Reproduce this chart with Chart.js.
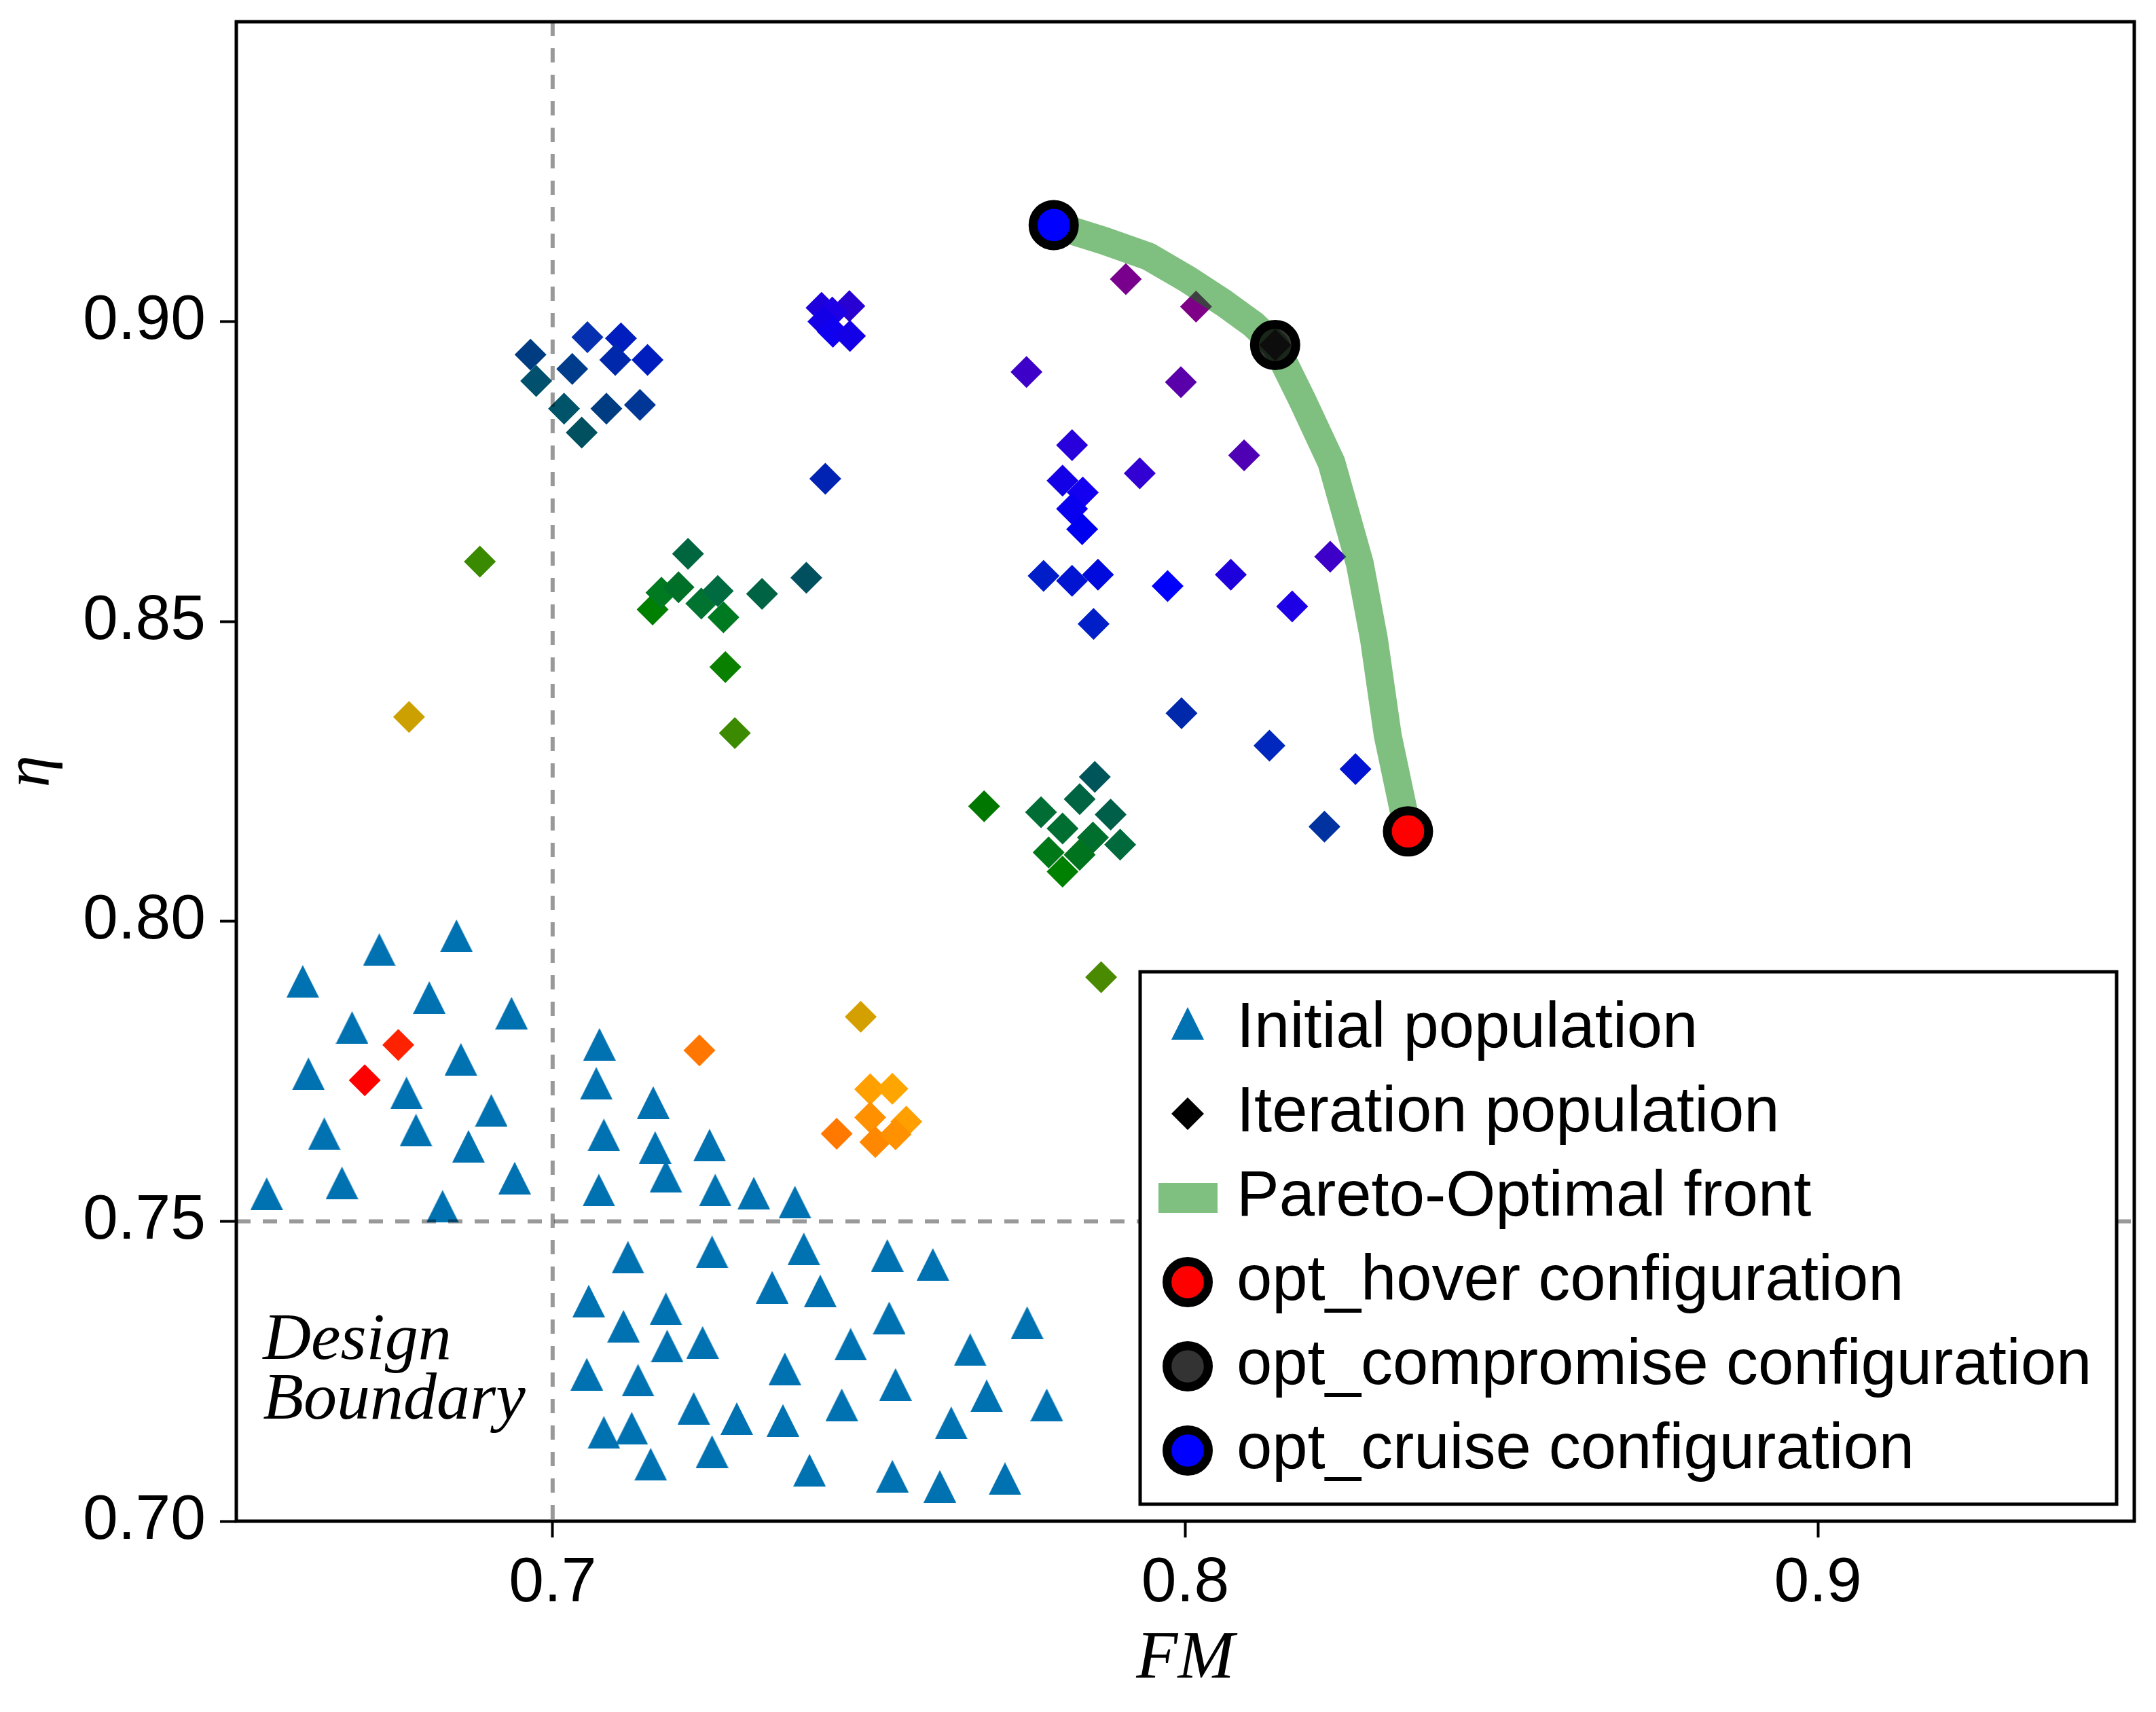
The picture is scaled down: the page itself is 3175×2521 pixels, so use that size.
<!DOCTYPE html>
<html>
<head>
<meta charset="utf-8">
<script src="https://cdn.jsdelivr.net/npm/chart.js@4.4.1/dist/chart.umd.min.js"></script>
<style>
  html, body { margin: 0; padding: 0; background: #fff; }
  #wrap { width: 3175px; height: 2521px; }
</style>
</head>
<body>
<div id="wrap"><canvas id="myChart" width="3175" height="2521"></canvas></div>
<script>
// Population initiale (triangles)
const initFM = [
  0.6848, 0.6726, 0.6605, 0.6805, 0.6935, 0.6683, 0.6855, 0.6614, 0.6769, 0.6903,
  0.6784, 0.6639, 0.6867, 0.6940, 0.6667, 0.6548, 0.6826,
  0.7074, 0.7069, 0.7159, 0.7081, 0.7162, 0.7248, 0.7179, 0.7073, 0.7257, 0.7318, 0.7383,
  0.7119, 0.7252, 0.7397, 0.7529, 0.7601, 0.7057, 0.7347, 0.7423, 0.7179, 0.7112,
  0.7532, 0.7750, 0.7181, 0.7237, 0.7471, 0.7660, 0.7054, 0.7367, 0.7135, 0.7542,
  0.7457, 0.7686, 0.7781, 0.7223, 0.7291, 0.7364, 0.7630, 0.7081, 0.7125, 0.7252,
  0.7155, 0.7406, 0.7537, 0.7612, 0.7715
];
const initEta = [
  0.7976, 0.7953, 0.7900, 0.7873, 0.7847, 0.7823, 0.7770, 0.7746, 0.7714, 0.7685,
  0.7652, 0.7646, 0.7625, 0.7572, 0.7564, 0.7546, 0.7525,
  0.7795, 0.7730, 0.7698, 0.7644, 0.7623, 0.7627, 0.7575, 0.7552, 0.7552, 0.7547, 0.7532,
  0.7440, 0.7449, 0.7454, 0.7443, 0.7428, 0.7367, 0.7390, 0.7384, 0.7354, 0.7325,
  0.7339, 0.7331, 0.7292, 0.7298, 0.7295, 0.7286, 0.7245, 0.7254, 0.7235, 0.7228,
  0.7194, 0.7209, 0.7194, 0.7188, 0.7171, 0.7168, 0.7164, 0.7148, 0.7155, 0.7116,
  0.7095, 0.7085, 0.7075, 0.7058, 0.7071
];

// Population des itérations (losanges), couleur = itération
const iterFM = [
  0.6756, 0.6703, 0.7232, 0.7487,
  0.7502, 0.7537, 0.7502, 0.7559, 0.7449, 0.7510, 0.7542,
  0.6773, 0.6885, 0.7288, 0.7867,
  0.7273, 0.7158, 0.7172, 0.7199, 0.7235, 0.7270, 0.7261, 0.7214, 0.7331, 0.7401,
  0.7682, 0.7857, 0.7833, 0.7772, 0.7882, 0.7806, 0.7854, 0.7897, 0.7784, 0.7833, 0.7806,
  0.6965, 0.7031, 0.6974, 0.7018, 0.7046, 0.7085, 0.7138, 0.7055, 0.7108, 0.7099, 0.7150,
  0.7431, 0.7994, 0.8133, 0.8269, 0.8220, 0.7776, 0.7821, 0.7862, 0.7855,
  0.7972, 0.8072, 0.8169, 0.7821, 0.7928, 0.7806, 0.7838, 0.7821, 0.7837,
  0.7425, 0.7469, 0.7442, 0.7428, 0.7443, 0.7470,
  0.7749, 0.7993, 0.8093, 0.8229, 0.7906, 0.8017, 0.8142
];
const iterEta = [
  0.7794, 0.7735, 0.7785, 0.7841,
  0.7720, 0.7721, 0.7673, 0.7666, 0.7646, 0.7632, 0.7645,
  0.8341, 0.8600, 0.8314, 0.7907,
  0.8424, 0.8520, 0.8548, 0.8557, 0.8530, 0.8507, 0.8551, 0.8613, 0.8546, 0.8573,
  0.8192, 0.8241, 0.8204, 0.8182, 0.8178, 0.8155, 0.8140, 0.8128, 0.8115, 0.8111, 0.8083,
  0.8945, 0.8921, 0.8901, 0.8855, 0.8815, 0.8855, 0.8861, 0.8974, 0.8972, 0.8936, 0.8936,
  0.8738, 0.8347, 0.8293, 0.8254, 0.8158, 0.8576, 0.8568, 0.8578, 0.8496,
  0.8559, 0.8578, 0.8525, 0.8794, 0.8747, 0.8735, 0.8715, 0.8688, 0.8654,
  0.9023, 0.9026, 0.9015, 0.9000, 0.8983, 0.8976,
  0.8916, 0.8899, 0.8777, 0.8608, 0.9071, 0.9025, 0.8961
];
const iterColors = [
  '#ff2200', '#ff0000', '#ff7700', '#d4a000',
  '#ffa000', '#ffa500', '#ff9000', '#ffa000', '#ff7800', '#ff8800', '#ff9000',
  '#cca000', '#3a8a00', '#3c8a00', '#4a8a00',
  '#0a8000', '#008000', '#007a20', '#007028', '#007330', '#007a20', '#006a40', '#006640', '#006444', '#005060',
  '#007800', '#00555a', '#006442', '#006e34', '#005f48', '#006e30', '#006e2c', '#006a3c', '#007818', '#00731e', '#008000',
  '#003c82', '#003c8c', '#00506e', '#00546a', '#00505f', '#003c82', '#003696', '#0530b0', '#001ebe', '#0028aa', '#001ebe',
  '#0023b4', '#0028aa', '#0028be', '#0014d2', '#0032a0', '#001ec8', '#0014d2', '#000adc', '#001ec8',
  '#0000ff', '#1e00dc', '#1e00e6', '#2800dc', '#3200d2', '#1400e6', '#1400f0', '#0a00f0', '#0000f0',
  '#1e00dc', '#2800d2', '#1e00e6', '#1400e6', '#1000f0', '#1400e6',
  '#3c00c8', '#5a00aa', '#5000b4', '#3c00c8', '#78008c', '#7d0087', '#800080'
];

// Front de Pareto
const paretoFM = [0.7792, 0.7871, 0.7941, 0.8003, 0.8061, 0.8108, 0.8142, 0.8185, 0.8231, 0.8276, 0.8298, 0.8320, 0.8352];
const paretoEta = [0.9161, 0.9135, 0.9109, 0.9071, 0.9031, 0.8995, 0.8961, 0.8869, 0.8765, 0.8596, 0.8472, 0.8310, 0.8150];

// Configurations optimales
const hoverFM = [0.8352], hoverEta = [0.8150];
const compromiseFM = [0.8142], compromiseEta = [0.8961];
const cruiseFM = [0.7792], cruiseEta = [0.9161];

// Limites de conception
const designFM = 0.7;
const designEta = 0.75;
const designText = ['Design', 'Boundary'];
const designTextFM = 0.6542;
const designTextEta = [0.7271, 0.7171];

// Axes
const xTicks = [0.7, 0.8, 0.9];
const xTickLabels = ['0.7', '0.8', '0.9'];
const yTicks = [0.70, 0.75, 0.80, 0.85, 0.90];
const yTickLabels = ['0.70', '0.75', '0.80', '0.85', '0.90'];

const toPoints = (xs, ys) => xs.map((x, i) => ({x: x, y: ys[i]}));

const TRI_BLUE = '#0072b2';
const PARETO_GREEN = 'rgba(0,128,0,0.5)';

// triangle isocèle (comme le marqueur de Makie)
function triangleSprite(size, color) {
    const c = document.createElement('canvas');
    c.width = size; c.height = size;
    const g = c.getContext('2d');
    g.fillStyle = color;
    g.beginPath();
    g.moveTo(size / 2, 0);
    g.lineTo(size, size);
    g.lineTo(0, size);
    g.closePath();
    g.fill();
    return c;
}
const triSprite = triangleSprite(48, TRI_BLUE);

const legendItems = [
    {label: 'Initial population', kind: 'tri'},
    {label: 'Iteration population', kind: 'diamond'},
    {label: 'Pareto-Optimal front', kind: 'line'},
    {label: 'opt_hover configuration', kind: 'circle', fill: '#ff0000'},
    {label: 'opt_compromise configuration', kind: 'circle', fill: 'rgba(0,0,0,0.8)'},
    {label: 'opt_cruise configuration', kind: 'circle', fill: '#0000ff'}
];

// lignes pointillées, cadre, texte et légende
const decorations = {
    id: 'decorations',
    afterDatasetsDraw(chart) {
        const {ctx, chartArea: a, scales: {x, y}} = chart;
        ctx.save();

        ctx.strokeStyle = 'rgba(0,0,0,0.4)';
        ctx.lineWidth = 6;
        ctx.setLineDash([21, 18]);
        const bx = x.getPixelForValue(designFM);
        const by = y.getPixelForValue(designEta);
        ctx.beginPath(); ctx.moveTo(bx, a.top); ctx.lineTo(bx, a.bottom); ctx.stroke();
        ctx.beginPath(); ctx.moveTo(a.left, by); ctx.lineTo(a.right, by); ctx.stroke();
        ctx.setLineDash([]);

        ctx.strokeStyle = '#000';
        ctx.lineWidth = 5;
        ctx.strokeRect(a.left, a.top, a.right - a.left, a.bottom - a.top);

        ctx.fillStyle = '#000';
        ctx.font = 'italic 98px "Liberation Serif"';
        ctx.textAlign = 'left';
        ctx.textBaseline = 'alphabetic';
        designText.forEach((t, i) => {
            ctx.fillText(t, x.getPixelForValue(designTextFM), y.getPixelForValue(designTextEta[i]));
        });

        // légende
        const L = {left: 1679, top: 1431, right: 3117, bottom: 2215};
        ctx.fillStyle = '#fff';
        ctx.fillRect(L.left, L.top, L.right - L.left, L.bottom - L.top);
        ctx.lineWidth = 5;
        ctx.strokeStyle = '#000';
        ctx.strokeRect(L.left, L.top, L.right - L.left, L.bottom - L.top);

        const sx = 1749, tx = 1821;
        ctx.font = '94px "Liberation Sans"';
        ctx.textBaseline = 'middle';
        legendItems.forEach((it, i) => {
            const ry = 1516 + i * 124;
            if (it.kind === 'tri') {
                ctx.drawImage(triSprite, sx - 24, ry - 33, 48, 48);
            } else if (it.kind === 'diamond') {
                ctx.fillStyle = '#000';
                ctx.beginPath();
                ctx.moveTo(sx, ry - 24); ctx.lineTo(sx + 24, ry);
                ctx.lineTo(sx, ry + 24); ctx.lineTo(sx - 24, ry);
                ctx.closePath(); ctx.fill();
            } else if (it.kind === 'line') {
                ctx.fillStyle = PARETO_GREEN;
                ctx.fillRect(sx - 43, ry - 22, 87, 44);
            } else {
                ctx.beginPath();
                ctx.arc(sx, ry, 30.4, 0, Math.PI * 2);
                ctx.fillStyle = '#fff';
                ctx.fill();
                ctx.fillStyle = it.fill;
                ctx.fill();
                ctx.lineWidth = 13.2;
                ctx.strokeStyle = '#000';
                ctx.stroke();
            }
            ctx.fillStyle = '#000';
            ctx.fillText(it.label, tx, ry);
        });

        ctx.restore();
    }
};

Chart.defaults.font.family = '"Liberation Sans", Arial, sans-serif';
Chart.defaults.color = '#000';

// pas de marge automatique autour des axes : la zone du graphique est fixée
function noPadding(s) {
    s.paddingTop = 0;
    s.paddingBottom = 0;
    s.paddingLeft = 0;
    s.paddingRight = 0;
}

const ctx = document.getElementById('myChart').getContext('2d');

function optDataset(label, xs, ys, fill) {
    return {
        label: label,
        data: toPoints(xs, ys),
        pointStyle: 'circle',
        pointRadius: 30.4,
        pointBackgroundColor: fill,
        pointBorderColor: '#000',
        pointBorderWidth: 13.2,
        order: 0
    };
}

const myChart = new Chart(ctx, {
    type: 'scatter',
    data: {
        datasets: [
            optDataset('opt_hover configuration', hoverFM, hoverEta, '#ff0000'),
            optDataset('opt_compromise configuration', compromiseFM, compromiseEta, 'rgba(0,0,0,0.8)'),
            optDataset('opt_cruise configuration', cruiseFM, cruiseEta, '#0000ff'),
            {
                label: 'Pareto-Optimal front',
                data: toPoints(paretoFM, paretoEta),
                showLine: true,
                borderColor: PARETO_GREEN,
                borderWidth: 41,
                borderJoinStyle: 'round',
                pointRadius: 0,
                fill: false,
                tension: 0,
                order: 1
            },
            {
                label: 'Iteration population',
                data: toPoints(iterFM, iterEta),
                pointStyle: 'rectRot',
                pointRadius: 23.5,
                pointBackgroundColor: iterColors,
                pointBorderWidth: 0,
                order: 2
            },
            {
                label: 'Initial population',
                data: toPoints(initFM, initEta),
                pointStyle: triSprite,
                pointRadius: 24,
                order: 3
            }
        ]
    },
    options: {
        responsive: false,
        devicePixelRatio: 1,
        animation: false,
        events: [],
        layout: {autoPadding: false, padding: {left: 0, right: 32, top: 32, bottom: 0}},
        plugins: {legend: {display: false}, tooltip: {enabled: false}},
        scales: {
            x: {
                type: 'linear',
                min: 0.65,
                max: 0.95,
                afterBuildTicks: s => { s.ticks = xTicks.map(v => ({value: v})); },
                afterFit: s => { s.height = 281; noPadding(s); },
                border: {display: false},
                grid: {drawOnChartArea: false, drawTicks: true, tickLength: 24, tickWidth: 4, tickColor: '#000'},
                ticks: {
                    font: {size: 93},
                    color: '#000',
                    padding: 13,
                    autoSkip: false,
                    maxRotation: 0,
                    callback: (v, i) => xTickLabels[i]
                },
                title: {
                    display: true,
                    text: 'FM',
                    color: '#000',
                    font: {family: '"Liberation Serif"', style: 'italic', size: 100, lineHeight: 1},
                    padding: {top: 0, bottom: 27}
                }
            },
            y: {
                type: 'linear',
                min: 0.70,
                max: 0.95,
                afterBuildTicks: s => { s.ticks = yTicks.map(v => ({value: v})); },
                afterFit: s => { s.width = 348; noPadding(s); },
                border: {display: false},
                grid: {drawOnChartArea: false, drawTicks: true, tickLength: 24, tickWidth: 4, tickColor: '#000'},
                ticks: {
                    font: {size: 93},
                    color: '#000',
                    padding: 21,
                    autoSkip: false,
                    callback: (v, i) => yTickLabels[i]
                },
                title: {
                    display: true,
                    text: 'η',
                    color: '#000',
                    font: {family: '"Liberation Serif"', style: 'italic', size: 95, lineHeight: 1},
                    padding: {top: 0, bottom: 0}
                }
            }
        }
    },
    plugins: [decorations]
});
</script>
</body>
</html>
